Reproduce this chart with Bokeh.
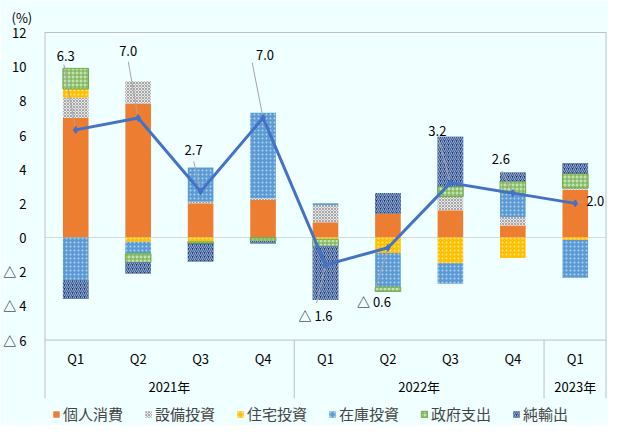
import numpy as np
from bokeh.plotting import figure
from bokeh.models import (FactorRange, ColumnDataSource, FixedTicker, Span,
                          Legend, LegendItem)
from bokeh.core.properties import value
from bokeh.embed import file_html
from bokeh.resources import INLINE

# ---------------- data ----------------
years = ["2021年"] * 4 + ["2022年"] * 4 + ["2023年"]
quarters = ["Q1", "Q2", "Q3", "Q4", "Q1", "Q2", "Q3", "Q4", "Q1"]

series_names = ["個人消費", "設備投資", "住宅投資", "在庫投資", "政府支出", "純輸出"]
consumption = [7.0, 7.85, 2.0, 2.2, 0.9, 1.4, 1.6, 0.7, 2.8]
equipment = [1.2, 1.3, 0.1, 0.1, 1.0, 0.0, 0.8, 0.5, 0.1]
housing = [0.5, -0.25, -0.25, 0.0, -0.1, -0.9, -1.5, -1.2, -0.15]
inventory = [-2.5, -0.7, 2.0, 5.0, 0.1, -2.0, -1.2, 1.4, -2.2]
government = [1.2, -0.5, -0.1, -0.2, -0.4, -0.25, 0.6, 0.7, 0.85]
net_exports = [-1.1, -0.65, -1.05, -0.15, -3.15, 1.2, 2.9, 0.5, 0.6]
gdp = [6.3, 7.0, 2.7, 7.0, -1.6, -0.6, 3.2, 2.6, 2.0]
gdp_labels = ["6.3", "7.0", "2.7", "7.0", "△ 1.6", "△ 0.6", "3.2", "2.6", "2.0"]
y_ticks = [-6, -4, -2, 0, 2, 4, 6, 8, 10, 12]
y_tick_labels = ["△ 6", "△ 4", "△ 2", "0", "2", "4", "6", "8", "10", "12"]
unit_label = "(%)"

# ---------------- layout / style ----------------
FONT = "Noto Sans CJK JP"
BG = "#F0FFFF"
GRID = "#BFBFBF"
W, H = 608, 425
ML, MR, MT, MB = 36, 2, 25, 0
RESERVED_BOTTOM = 8          # space Bokeh keeps under the frame
FW, FH = W - ML - MR, H - MT - MB - RESERVED_BOTTOM
NCAT = len(quarters)
PXX = FW / NCAT
PXY = 17.0
YMAX, YMIN = max(y_ticks), min(y_ticks)
Y1 = YMAX + 1 / PXY
Y0 = Y1 - FH / PXY
AXIS_DEPTH = 58  # px of the category-axis box below the plot area

styles = [
    dict(fill_color="#ED7D31", line_color=None),
    dict(fill_color="#E8E8E8", hatch_pattern="diagonal_cross", hatch_color="#A6A6A6",
         hatch_scale=3, hatch_weight=1, line_color=None),
    dict(fill_color="#FFC000", hatch_pattern="dot", hatch_color="white",
         hatch_scale=4, hatch_weight=1, hatch_alpha=0.55, line_color=None),
    dict(fill_color="#5B9BD5", hatch_pattern="dot", hatch_color="white",
         hatch_scale=4, hatch_weight=1, hatch_alpha=0.55, line_color=None),
    dict(fill_color="#C5E0B4", hatch_pattern="cross", hatch_color="#70AD47",
         hatch_scale=4, hatch_weight=1, line_color="#70AD47", line_width=1),
    dict(fill_color="#1F3864", hatch_pattern="right_diagonal_line", hatch_color="#8EA9DB",
         hatch_scale=4, hatch_weight=1.2, line_color=None),
]

# label offsets (pixels, screen, y down) from each line point, and leader end offsets
lab_off = [(-10, -74), (-10, -67), (-7, -41), (2, -63), (-10, 51), (-14, 54),
           (-13, -52), (-12, -34), (20, -2)]
lead_off = [(-12, -65), (-10, -56), (-7, -30), (-11, -55), (-9, 38), (-13, 42),
            (-12, -44), (-11, -22), (8, -2)]

factors = list(zip(years, quarters))
xr = FactorRange(*factors, group_padding=0, factor_padding=0, subgroup_padding=0,
                 range_padding=0)

p = figure(x_range=xr, y_range=(Y0, Y1), width=W, height=H,
           output_backend="svg", toolbar_location=None,
           min_border_left=ML, min_border_right=MR, min_border_top=MT,
           min_border_bottom=MB, background_fill_color=BG,
           border_fill_color=BG, outline_line_color=None,
           title=unit_label)
p.grid.visible = False

p.title.align = "left"
p.title.offset = -33
p.title.standoff = 10
p.title.text_font = FONT
p.title.text_font_size = "13px"
p.title.text_font_style = "normal"
p.title.text_color = "black"

p.add_layout(Span(location=0, dimension="width", line_color="#D9D9D9",
                  line_width=1, level="underlay"))

# plot-area box and category-axis separators
yb = YMIN - AXIS_DEPTH / PXY
p.segment(x0=[0, 0], y0=[YMAX, YMIN], x1=[NCAT, NCAT], y1=[YMAX, YMIN],
          line_color=GRID, line_width=1)
p.segment(x0=[0, NCAT], y0=[yb, yb], x1=[0, NCAT], y1=[YMAX, YMAX],
          line_color=GRID, line_width=2)
p.segment(x0=[4, 8], y0=[YMIN, YMIN], x1=[4, 8], y1=[yb, yb],
          line_color=GRID, line_width=1)

all_series = [consumption, equipment, housing, inventory, government, net_exports]
pos = np.zeros(NCAT)
neg = np.zeros(NCAT)
items = []
for name, vals, st in zip(series_names, all_series, styles):
    v = np.array(vals, dtype=float)
    bottom = np.where(v >= 0, pos, neg + v)
    top = np.where(v >= 0, pos + v, neg)
    pos = pos + np.where(v >= 0, v, 0)
    neg = neg + np.where(v < 0, v, 0)
    src = ColumnDataSource(dict(x=factors, top=top, bottom=bottom))
    r = p.vbar(x="x", top="top", bottom="bottom", width=0.41, source=src, **st)
    items.append(LegendItem(label=name, renderers=[r]))

# leader lines
xs = np.arange(NCAT) + 0.5
gv = np.array(gdp, dtype=float)
lx1 = xs + np.array([o[0] for o in lead_off]) / PXX
ly1 = gv - np.array([o[1] for o in lead_off]) / PXY
p.segment(x0=xs, y0=gv, x1=lx1, y1=ly1, line_color="#A6A6A6", line_width=1)

# GDP line
p.line(x=factors, y=gdp, line_color="#4472C4", line_width=3)
p.scatter(x=factors, y=gdp, marker="diamond", size=7, fill_color="#4472C4",
          line_color="#4472C4")

lsrc = ColumnDataSource(dict(x=xs, y=gv, t=gdp_labels,
                             dx=[o[0] for o in lab_off], dy=[o[1] for o in lab_off]))
p.text(x="x", y="y", text="t", x_offset="dx", y_offset="dy", source=lsrc,
       text_font=value(FONT), text_font_size="13px", text_color="black",
       text_align="center", text_baseline="middle")

# axes
ya = p.yaxis[0]
ya.ticker = FixedTicker(ticks=y_ticks)
ya.major_label_overrides = {t: l for t, l in zip(y_ticks, y_tick_labels)}
ya.axis_line_color = None
ya.major_tick_line_color = None
ya.minor_tick_line_color = None
ya.major_label_standoff = 12
ya.major_label_text_font = FONT
ya.major_label_text_font_size = "13px"
ya.major_label_text_color = "black"

xa = p.xaxis[0]
xa.fixed_location = YMIN - 3 / PXY
xa.axis_line_color = None
xa.major_tick_line_color = None
xa.major_tick_out = 0
xa.major_tick_in = 0
xa.major_label_standoff = 6
xa.major_label_text_font = FONT
xa.major_label_text_font_size = "13px"
xa.major_label_text_color = "black"
xa.group_text_font = FONT
xa.group_text_font_size = "13px"
xa.group_text_font_style = "normal"
xa.group_text_color = "black"
xa.separator_line_alpha = 0

legend = Legend(items=items, orientation="horizontal", location=(8, 1),
                label_text_font=FONT, label_text_font_size="15px",
                glyph_width=8, glyph_height=8, label_standoff=3, spacing=21,
                padding=0, margin=0, border_line_color=None,
                background_fill_alpha=0)
p.add_layout(legend)

open("out.html", "w").write(file_html(p, INLINE))
